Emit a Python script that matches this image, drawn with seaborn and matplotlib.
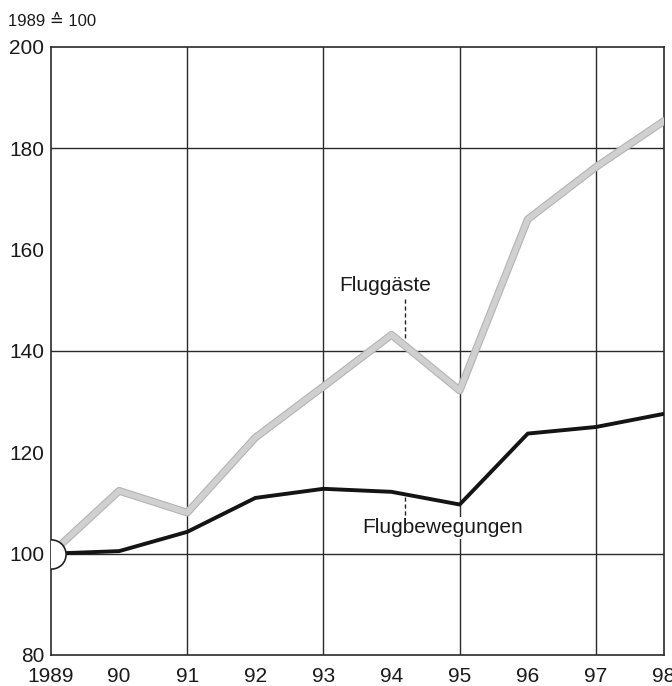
import numpy as np
import pandas as pd
import matplotlib
matplotlib.use('Agg')
import matplotlib.pyplot as plt
import seaborn as sns

# values (1989 = 100)
years = [1989, 1990, 1991, 1992, 1993, 1994, 1995, 1996, 1997, 1998]
fluggaeste = [100, 112.4, 108.1, 122.9, 133.0, 143.2, 132.2, 166.0, 176.3, 185.4]
flugbewegungen = [100, 100.5, 104.3, 111.0, 112.8, 112.2, 109.7, 123.7, 125.0, 127.6]
xtick_labels = ['1989', '90', '91', '92', '93', '94', '95', '96', '97', '98']
yticks = [80, 100, 120, 140, 160, 180, 200]
hgrid = [100, 140, 180]
vgrid = [1991, 1993, 1995, 1997]

sns.set_style('white')
plt.rcParams['font.family'] = ['Liberation Sans', 'DejaVu Sans']

df = pd.DataFrame({'Jahr': years, 'Fluggäste': fluggaeste, 'Flugbewegungen': flugbewegungen})

fig = plt.figure(figsize=(6.72, 6.86), dpi=100)
ax = fig.add_axes([0.0759, 0.0452, 0.9122, 0.8863])

for y in hgrid:
    ax.axhline(y, color='#2a2a2a', lw=1.0, zorder=1)
for x in vgrid:
    ax.axvline(x, color='#2a2a2a', lw=1.0, zorder=1)

# grey line with a faint rim
sns.lineplot(data=df, x='Jahr', y='Fluggäste', ax=ax, color='#b4b4b4', lw=5.6, zorder=3)
sns.lineplot(data=df, x='Jahr', y='Fluggäste', ax=ax, color='#d0d0d0', lw=4.0, zorder=3)
sns.lineplot(data=df, x='Jahr', y='Flugbewegungen', ax=ax, color='#141414', lw=2.8, zorder=4)

# base point circle
ax.plot([years[0]], [100], marker='o', ms=21, mfc='white', mec='#222222', mew=1.2, zorder=5)

# labels with dashed leaders
ax.text(1993.9, 152.9, 'Fluggäste', fontsize=15, ha='center', va='center', color='#1a1a1a', zorder=6)
ax.plot([1994.2, 1994.2], [150.3, 142.2], ls=(0, (3, 2)), color='#222222', lw=1, zorder=6)
ax.text(1994.75, 105.1, 'Flugbewegungen', fontsize=15, ha='center', va='center', color='#1a1a1a',
        bbox=dict(facecolor='white', edgecolor='none', pad=1), zorder=6)
ax.plot([1994.2, 1994.2], [111.2, 107.3], ls=(0, (3, 2)), color='#222222', lw=1, zorder=6)

ax.set_xlim(1989, 1998)
ax.set_ylim(80, 200)
ax.set_xticks(years)
ax.set_xticklabels(xtick_labels)
ax.set_yticks(yticks)
ax.set_xlabel('')
ax.set_ylabel('')
ax.tick_params(axis='both', direction='in', length=11, width=1, color='#2a2a2a',
               labelsize=15, labelcolor='#1a1a1a')
ax.tick_params(axis='x', pad=9)
ax.tick_params(axis='y', pad=5)
for s in ax.spines.values():
    s.set_visible(True)
    s.set_color('#2a2a2a')
    s.set_linewidth(1.2)

fig.text(0.012, 0.968, '1989 \u2259 100', fontsize=12, ha='left', va='center', color='#1a1a1a')

fig.savefig('out.png', dpi=100)
